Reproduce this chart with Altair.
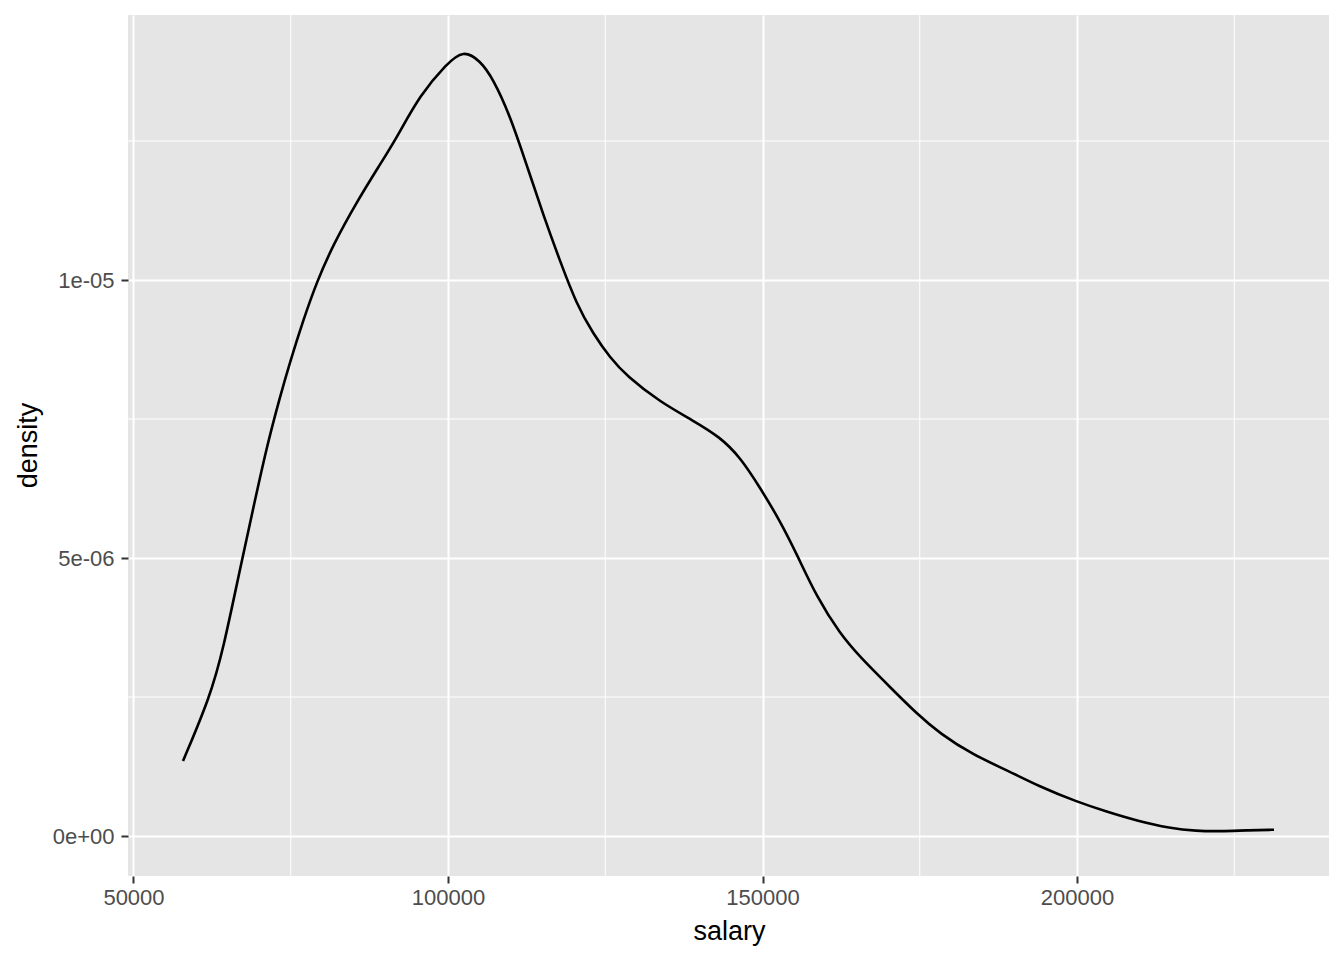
import altair as alt
import pandas as pd

# Density curve
salary = [57869, 62162, 64276, 66931, 69046, 71176, 73291, 74880, 76995, 79125,
          81764, 85484, 89189, 91844, 95548, 99793, 102432, 105086, 107201, 109856,
          112511, 115150, 117805, 120460, 123099, 125754, 128409, 133703, 138997, 143242,
          146421, 149601, 152781, 155436, 158615, 162319, 165499, 170268, 174513, 178217,
          183511, 188821, 194115, 199950, 204719, 209489, 214783, 219028, 222732, 226976,
          231317]
density = [1.349e-6, 2.500e-6, 3.363e-6, 4.802e-6, 5.899e-6, 6.997e-6, 7.900e-6, 8.525e-6, 9.281e-6, 9.964e-6,
           1.0639e-5, 1.1403e-5, 1.2078e-5, 1.2560e-5, 1.3330e-5, 1.3890e-5, 1.4140e-5, 1.3950e-5, 1.3615e-5, 1.2959e-5,
           1.2069e-5, 1.1169e-5, 1.0342e-5, 9.560e-6, 9.029e-6, 8.605e-6, 8.274e-6, 7.806e-6, 7.471e-6, 7.176e-6,
           6.817e-6, 6.268e-6, 5.669e-6, 5.072e-6, 4.299e-6, 3.637e-6, 3.219e-6, 2.680e-6, 2.201e-6, 1.842e-6,
           1.457e-6, 1.187e-6, 8.85e-7, 6.17e-7, 4.37e-7, 2.75e-7, 1.38e-7, 9.0e-8, 8.5e-8, 1.03e-7,
           1.13e-7]

x_major = [50000, 100000, 150000, 200000]
x_minor = [75000, 125000, 175000, 225000]
y_major = [0, 5e-6, 1e-5]
y_minor = [2.5e-6, 7.5e-6, 1.25e-5]

x_domain = [49126, 240061]
y_domain = [-7.19e-7, 1.4767e-5]

FONT = "Liberation Sans"

df = pd.DataFrame({"salary": salary, "density": density})
xminor_df = pd.DataFrame({"salary": x_minor})
yminor_df = pd.DataFrame({"density": y_minor})

xscale = alt.Scale(domain=x_domain, nice=False, zero=False)
yscale = alt.Scale(domain=y_domain, nice=False, zero=False)

label_expr = ("datum.value == 0 ? '0e+00' : (datum.value < 7e-6 ? '5e-06' : '1e-05')")

x_axis = alt.Axis(values=x_major, format="d", title="salary",
                  grid=True, gridColor="white", gridWidth=2,
                  domain=False, tickColor="#333333", tickSize=7, tickWidth=2,
                  labelFont=FONT, labelFontSize=22, labelColor="#4D4D4D",
                  labelPadding=4, labelFlush=False, labelOverlap=False,
                  titleFont=FONT, titleFontSize=27, titleFontWeight="normal",
                  titleColor="black", titleX=601, titleY=63,
                  titleBaseline="alphabetic", titleAlign="center")
y_axis = alt.Axis(values=y_major, labelExpr=label_expr, title="density",
                  grid=True, gridColor="white", gridWidth=2,
                  domain=False, tickColor="#333333", tickSize=7, tickWidth=2,
                  labelFont=FONT, labelFontSize=22, labelColor="#4D4D4D",
                  labelPadding=7, labelFlush=False, labelOverlap=False,
                  titleFont=FONT, titleFontSize=27, titleFontWeight="normal",
                  titleColor="black", titleX=-92, titleY=430,
                  titleBaseline="alphabetic", titleAlign="center")

xminor = alt.Chart(xminor_df).mark_rule(color="white", strokeWidth=1).encode(
    x=alt.X("salary:Q", scale=xscale, axis=x_axis)
)
yminor = alt.Chart(yminor_df).mark_rule(color="white", strokeWidth=1).encode(
    y=alt.Y("density:Q", scale=yscale, axis=y_axis)
)

line = alt.Chart(df).mark_line(color="black", strokeWidth=2.6, interpolate="basis").encode(
    x=alt.X("salary:Q", scale=xscale, axis=x_axis),
    y=alt.Y("density:Q", scale=yscale, axis=y_axis),
)

chart = alt.layer(xminor, yminor, line).properties(
    width=1201, height=861,
    autosize=alt.AutoSizeParams(type="none"),
    padding={"left": 120, "top": 7, "right": 7, "bottom": 76},
    background="white",
).configure_view(fill="#E5E5E5", stroke=None)

chart.save("out.html", embed_options={"renderer": "svg", "actions": False})
